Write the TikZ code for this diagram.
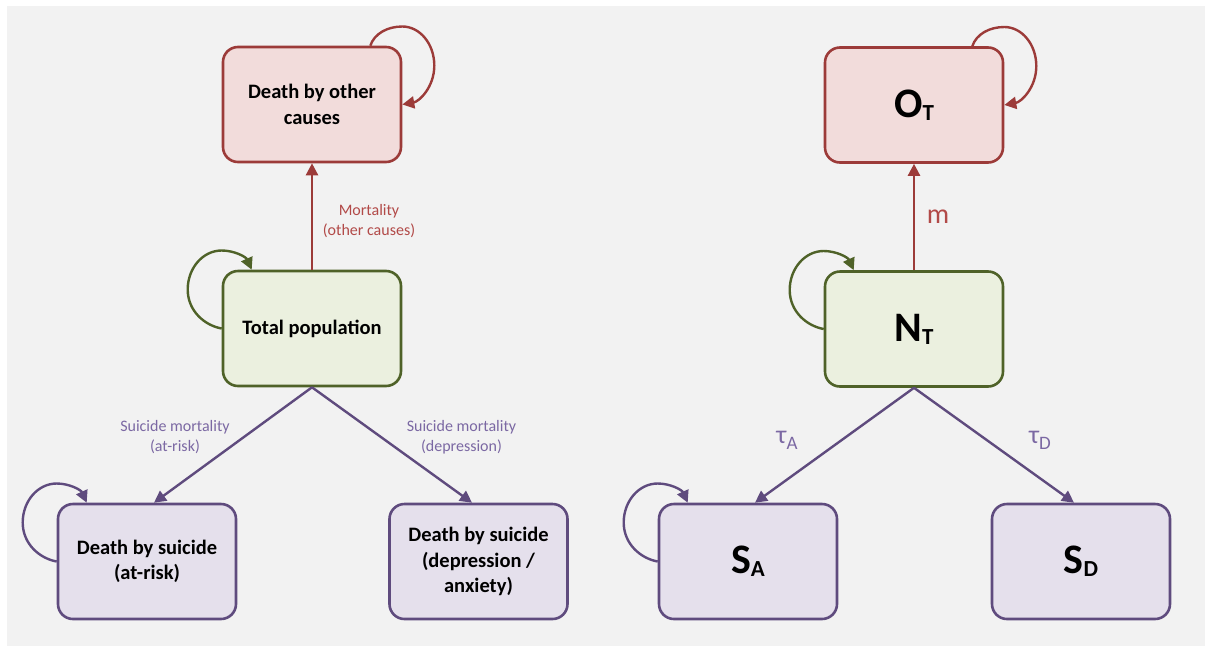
\documentclass[tikz,border=0pt]{standalone}
\usepackage{fontspec}
\setmainfont{Carlito}
\usetikzlibrary{arrows.meta,calc}
\definecolor{bgc}{HTML}{F2F2F2}
\definecolor{redB}{HTML}{9C3B39}
\definecolor{redF}{HTML}{F2DCDB}
\definecolor{redL}{HTML}{B24A48}
\definecolor{grnB}{HTML}{4F6228}
\definecolor{grnF}{HTML}{EBF0DF}
\definecolor{purB}{HTML}{5F4B7E}
\definecolor{purF}{HTML}{E5E0EC}
\definecolor{purL}{HTML}{7B68A3}
\newcommand\lloop[2]{%
\draw[#2] (#1.west) .. controls ($(#1.west)+(-17,-3)$) and ($(#1.west)+(-34,-17.5)$) .. ($(#1.west)+(-34,-39)$)
 .. controls ($(#1.west)+(-34,-60.5)$) and ($(#1.west)+(-18.8,-78)$) .. ($(#1.west)+(0,-78)$)
 .. controls ($(#1.west)+(12.6,-78)$) and ($(#1.north west)+(24.2,-12.9)$) .. ($(#1.north west)+(30,0)$);}
\newcommand\rloop[2]{%
\draw[#2] ($(#1.north east)+(-32,0)$) .. controls ($(#1.north east)+(-28,-12)$) and ($(#1.east)+(-15,-78)$) .. ($(#1.east)+(0,-78)$)
 .. controls ($(#1.east)+(17.7,-78)$) and ($(#1.east)+(32,-60.5)$) .. ($(#1.east)+(32,-39)$)
 .. controls ($(#1.east)+(32,-17.5)$) and ($(#1.east)+(17,-3)$) .. (#1.east);}
\newcommand\bigsym[2]{{\fontsize{42}{42}\selectfont\bfseries #1\raisebox{-3pt}{\fontsize{23}{23}\selectfont #2}}}
\newcommand\rate[2]{{\fontsize{26}{26}\selectfont #1\raisebox{-6pt}{\fontsize{19}{19}\selectfont #2}}}
\begin{document}
\begin{tikzpicture}[x=1pt,y=-1pt,
  box/.style={draw, rounded corners=15pt, line width=2.6pt, minimum width=178pt, minimum height=115pt,
    align=center, inner sep=0pt, font=\fontsize{20.5}{25.5}\selectfont\bfseries},
  rbox/.style={box, draw=redB, fill=redF},
  gbox/.style={box, draw=grnB, fill=grnF},
  pbox/.style={box, draw=purB, fill=purF},
  arr/.style={line width=2.4pt, -{Triangle[length=12pt,width=12pt]}},
  lab/.style={align=center, font=\fontsize{16}{20}\selectfont}]
\useasboundingbox (0,0) rectangle (1205,646);
\fill[bgc] (7,6) rectangle (1205,646);
% left diagram
\node[rbox] (doc) at (312,104.5) {Death by other\\causes};
\node[gbox] (tp) at (312,328.5) {Total population};
\node[pbox] (sa) at (147,561.5) {Death by suicide\\(at-risk)};
\node[pbox] (sd) at (478.5,561.5) {Death by suicide\\(depression /\\anxiety)};
\draw[arr,redB] (tp.north) -- (doc.south);
\draw[arr,purB] (tp.south) -- ($(sa.north)+(7,0)$);
\draw[arr,purB] (tp.south) -- ($(sd.north)+(-6.5,0)$);
\rloop{doc}{arr,redB}
\lloop{tp}{arr,grnB}
\lloop{sa}{arr,purB}
\node[lab,text=redL] (l1) at (369,221) {Mortality\\(other causes)};
\node[lab,text=purL] (l2) at (175,437) {Suicide mortality\\(at-risk)};
\node[lab,text=purL] (l3) at (461.5,437) {Suicide mortality\\(depression)};
% right diagram
\node[rbox] (ot) at (914,105) {\bigsym{O}{T}};
\node[gbox] (nt) at (914,329) {\bigsym{N}{T}};
\node[pbox] (sA) at (748,561.5) {\bigsym{S}{A}};
\node[pbox] (sD) at (1081,561.5) {\bigsym{S}{D}};
\draw[arr,redB] (nt.north) -- (ot.south);
\draw[arr,purB] (nt.south) -- ($(sA.north)+(7,0)$);
\draw[arr,purB] (nt.south) -- ($(sD.north)+(-7,0)$);
\rloop{ot}{arr,redB}
\lloop{nt}{arr,grnB}
\lloop{sA}{arr,purB}
\node[text=redL,font=\fontsize{28}{28}\selectfont] (m) at (938,217) {m};
\node[text=purL,anchor=base] (ta) at (787,443) {\rate{τ}{A}};
\node[text=purL,anchor=base] (td) at (1040,443) {\rate{τ}{D}};
\end{tikzpicture}
\end{document}
